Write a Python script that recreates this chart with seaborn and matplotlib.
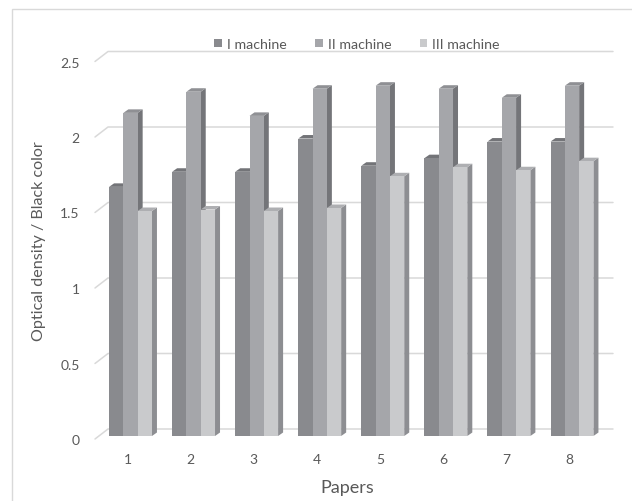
import matplotlib
matplotlib.use("Agg")
import matplotlib.pyplot as plt
from matplotlib.patches import Polygon, Rectangle, Patch
from matplotlib.lines import Line2D
import matplotlib.transforms as mtransforms
import seaborn as sns
import pandas as pd

# Optical density readings per paper sample for each printing machine
papers = ["1", "2", "3", "4", "5", "6", "7", "8"]
machine_1 = [1.65, 1.75, 1.75, 1.97, 1.79, 1.84, 1.95, 1.95]
machine_2 = [2.14, 2.28, 2.12, 2.30, 2.32, 2.30, 2.24, 2.32]
machine_3 = [1.49, 1.50, 1.49, 1.51, 1.72, 1.78, 1.76, 1.82]
series_names = ["I machine", "II machine", "III machine"]
y_ticks = [0, 0.5, 1, 1.5, 2, 2.5]
y_tick_labels = ["0", "0.5", "1", "1.5", "2", "2.5"]

front_colors = ["#898a8e", "#a5a6aa", "#c9cacc"]
side_colors = ["#6c6d71", "#747579", "#8d8e92"]
top_colors = ["#737478", "#8f9094", "#aeafb2"]
text_color = "#595959"
grid_color = "#d9d9d9"

df = pd.DataFrame({
    "paper": papers * 3,
    "machine": sum([[n] * len(papers) for n in series_names], []),
    "density": machine_1 + machine_2 + machine_3,
})

sns.set_theme(style="white")
plt.rcParams["font.family"] = ["Lato", "DejaVu Sans"]

W, H = 632, 502
fig = plt.figure(figsize=(W / 100, H / 100), dpi=100)

# Front plane of the pseudo-3D plot area (pixel geometry)
left_px, right_px = 95, 600
zero_px, top_px = 437, 59.5
ax = fig.add_axes([left_px / W, (H - zero_px) / H,
                   (right_px - left_px) / W, (zero_px - top_px) / H])

sns.barplot(data=df, x="paper", y="density", hue="machine",
            palette=front_colors, saturation=1, width=0.68,
            linewidth=0, edgecolor="none", legend=False, ax=ax, zorder=3)

x_lo = -0.563
x_hi = x_lo + (right_px - left_px) / 63.07
ax.set_xlim(x_lo, x_hi)
ax.set_ylim(0, 2.5)

px_x = (right_px - left_px) / (x_hi - x_lo)  # pixels per category unit
px_y = (zero_px - top_px) / 2.5              # pixels per density unit


def dx(p):
    return p / px_x


def dy(p):
    return p / px_y


# Back wall gridlines with the slanted side-wall segment on the left
for v in y_ticks:
    xs = [x_lo, x_lo + dx(13), x_lo + dx(518)]
    ys = [v - dy(3), v + dy(7), v + dy(7)]
    ax.add_line(Line2D(xs, ys, color=grid_color, lw=1.1, zorder=1,
                       clip_on=False))

# Depth faces for every column (side and top)
depth_x, depth_y = dx(5), dy(3.5)
n = len(papers)
for k, patch in enumerate(ax.patches[:3 * n]):
    s = k // n
    x0, w = patch.get_x(), patch.get_width()
    h = patch.get_height()
    patch.set_zorder(3 + s)
    side = Polygon([(x0 + w, 0), (x0 + w, h), (x0 + w + depth_x, h + depth_y),
                    (x0 + w + depth_x, depth_y)],
                   closed=True, facecolor=side_colors[s], edgecolor="none",
                   zorder=3 + s - 0.5)
    top = Polygon([(x0, h), (x0 + w, h), (x0 + w + depth_x, h + depth_y),
                   (x0 + depth_x, h + depth_y)],
                  closed=True, facecolor=top_colors[s], edgecolor="none",
                  zorder=3 + s - 0.5)
    ax.add_patch(side)
    ax.add_patch(top)

for sp in ax.spines.values():
    sp.set_visible(False)

ax.set_yticks(y_ticks)
ax.set_yticklabels(y_tick_labels)
ax.tick_params(axis="y", length=0, pad=11, labelsize=10, labelcolor=text_color)
ax.tick_params(axis="x", length=0, pad=12, labelsize=10, labelcolor=text_color)

# Tick labels sit on the front edge of the floor, slightly left/below
x_shift = mtransforms.ScaledTranslation(-3 / 100, 0, fig.dpi_scale_trans)
y_shift = mtransforms.ScaledTranslation(0, -3 / 100, fig.dpi_scale_trans)
for lab in ax.get_xticklabels():
    lab.set_transform(lab.get_transform() + x_shift)
for lab in ax.get_yticklabels():
    lab.set_transform(lab.get_transform() + y_shift)

ax.set_xlabel("Papers", fontsize=13, color=text_color, labelpad=10)
ax.set_ylabel("Optical density / Black color", fontsize=11.6, color=text_color)
ax.yaxis.set_label_coords(-0.097, 0.518)

handles = [Patch(facecolor=c, edgecolor="none") for c in front_colors]
fig.legend(handles, series_names, loc="center", ncol=3, frameon=False,
           bbox_to_anchor=(357 / W, 1 - 45 / H), fontsize=10.2,
           labelcolor=text_color, handlelength=0.55, handleheight=0.55,
           handletextpad=0.35, columnspacing=2.0)

# Outer chart border (only top and left edges fall inside the image)
fig.patches.append(Rectangle((12 / W, -0.1), 1.2, 1.1 - 10 / H,
                             transform=fig.transFigure, fill=False,
                             edgecolor="#d9d9d9", lw=1, zorder=0))

fig.savefig("out.png", dpi=100, facecolor="white")
